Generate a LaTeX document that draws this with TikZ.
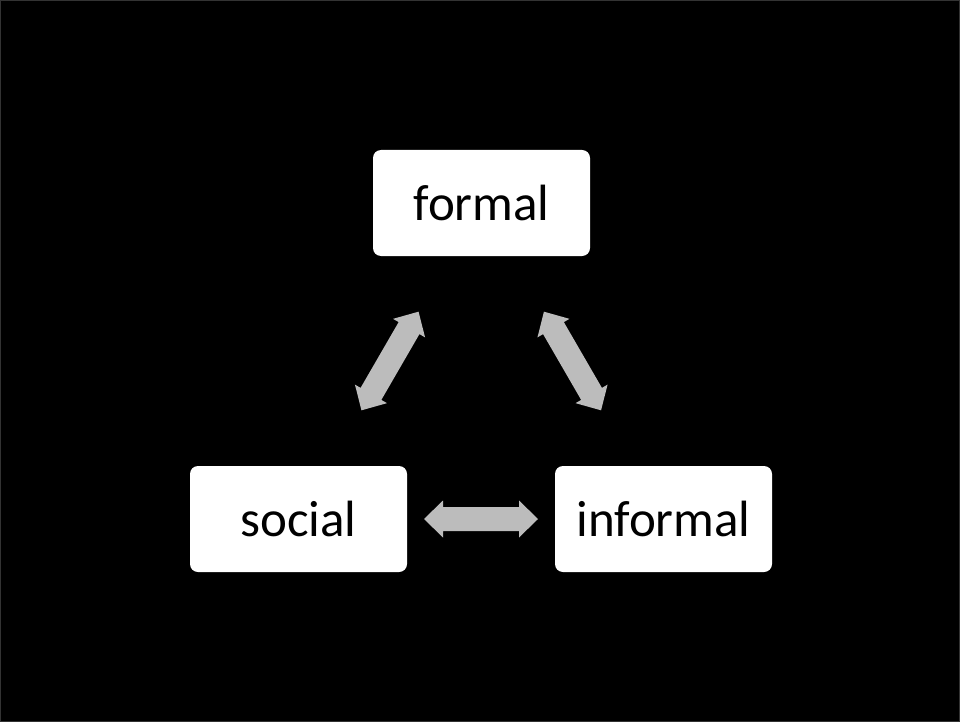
\documentclass[tikz,border=0pt]{standalone}
\usepackage{fontspec}
\setmainfont{Carlito}
\usetikzlibrary{calc}
\definecolor{arrowgray}{HTML}{BCBCBC}
\tikzset{
  box/.style={fill=white, rounded corners=8pt, minimum width=217pt, minimum height=106pt,
    inner sep=0pt, text=black, font=\fontsize{51}{61}\selectfont},
  dbl/.pic={\fill[arrowgray] (-57,0) -- (-38,18.5) -- (-38,12) -- (38,12) -- (38,18.5)
     -- (57,0) -- (38,-18.5) -- (38,-12) -- (-38,-12) -- (-38,-18.5) -- cycle;}
}
\begin{document}
\begin{tikzpicture}[x=1pt,y=-1pt]
\useasboundingbox (0,0) rectangle (960,722);
\fill[black] (0,0) rectangle (960,722);
\draw[black!80!white, line width=1pt] (0.5,0.5) rectangle (959.5,721.5);
\node[box] (formal) at (481.5,203) {formal};
\node[box] (social) at (298.5,519) {social};
\node[box] (informal) at (663.5,519) {informal};
\coordinate (m1) at ($(social)!0.5!(formal)$);
\coordinate (m2) at ($(informal)!0.5!(formal)$);
\coordinate (m3) at ($(social)!0.5!(informal)$);
\pic (a1) [rotate=59.93] at (m1) {dbl};
\pic (a2) [rotate=120.07] at (m2) {dbl};
\pic (a3) at (m3) {dbl};
\end{tikzpicture}
\end{document}
